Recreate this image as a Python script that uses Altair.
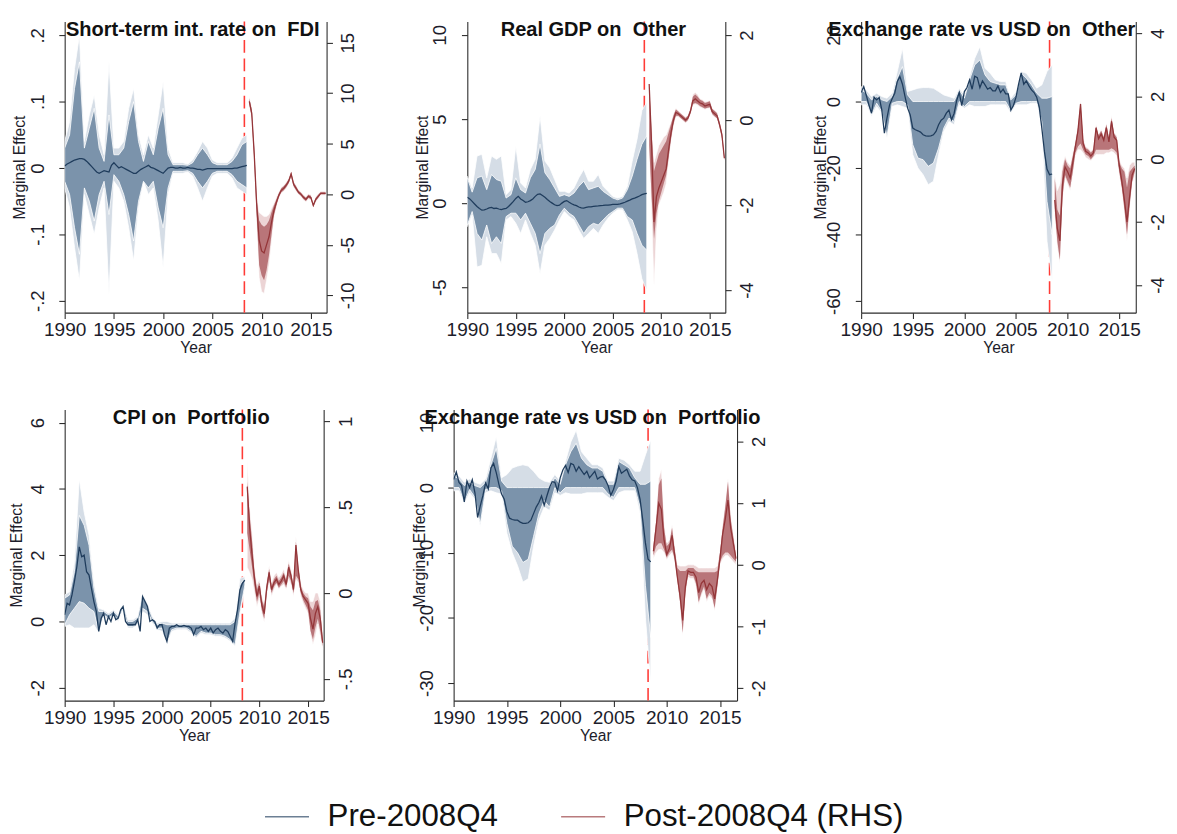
import altair as alt
import numpy as np
import pandas as pd

FONT = "Liberation Sans"

# ---- time grids (decimal years) ----
PRE_Q = np.round(np.arange(1990.0, 2008.51, 0.25), 2)    # quarterly, pre-break mean
PRE_H = np.round(np.arange(1990.0, 2008.51, 0.5), 2)     # half-yearly, pre-break bands
POST_Q = np.round(np.arange(2008.75, 2016.51, 0.25), 2)  # quarterly, post-break
X_DOMAIN = [1990, 2016.6]
X_TICKS = [1990, 1995, 2000, 2005, 2010, 2015]
BREAK_YEAR = [2008.25]
SERIES = ["Pre-2008Q4", "Post-2008Q4 (RHS)"]

NB = "\u00a0"
TITLES = ["Short-term int. rate on " + NB + "FDI", "Real GDP on " + NB + "Other",
          "Exchange rate vs USD on " + NB + "Other", "CPI on " + NB + "Portfolio",
          "Exchange rate vs USD on " + NB + "Portfolio"]

# ================= Panel 1 : Short-term int. rate on FDI =================
p1_pre_mean = [0.003, 0.006, 0.008, 0.010, 0.012, 0.013, 0.014, 0.014,
               0.013, 0.010, 0.006, 0.002, -0.002, -0.006, -0.008, -0.006,
               -0.004, -0.005, -0.006, 0.004, 0.008, 0.004, 0.000, 0.002,
               0.000, -0.002, -0.004, -0.006, -0.008, -0.008, -0.005, -0.002,
               0.000, 0.002, 0.004, 0.001, 0.000, -0.002, -0.004, -0.006,
               -0.008, -0.004, 0.000, 0.001, 0.001, 0.000, 0.000, 0.001,
               0.000, 0.000, 0.001, 0.000, 0.000, -0.001, -0.002, -0.002,
               -0.003, -0.002, -0.001, -0.001, -0.001, -0.001, -0.001, -0.001,
               -0.001, -0.001, -0.001, -0.001, -0.001, 0.000, 0.000, 0.001,
               0.002, 0.003, 0.004]
p1_pre_dhi = [0.03, 0.05, 0.12, 0.16, 0.03, 0.06, 0.09, 0.03, 0.01, 0.08,
              0.02, 0.02, 0.03, 0.07, 0.10, 0.04, 0.01, 0.04, 0.02, 0.06,
              0.09, 0.02, 0.005, 0.005, 0.005, 0.004, 0.008, 0.02, 0.03, 0.02,
              0.008, 0.005, 0.005, 0.005, 0.01, 0.02, 0.035, 0.04]
p1_pre_dlo = [-0.02, -0.04, -0.09, -0.13, -0.03, -0.05, -0.08, -0.04, -0.02, -0.07,
              -0.01, -0.02, -0.04, -0.07, -0.11, -0.05, -0.02, -0.03, -0.02, -0.06,
              -0.09, -0.03, -0.005, -0.005, -0.005, -0.004, -0.008, -0.02, -0.03, -0.02,
              -0.008, -0.005, -0.005, -0.005, -0.01, -0.02, -0.025, -0.03]
p1_pre_lhi = [0.04, 0.07, 0.15, 0.20, 0.04, 0.08, 0.11, 0.05, 0.02, 0.16,
              0.03, 0.03, 0.04, 0.09, 0.12, 0.05, 0.02, 0.05, 0.03, 0.08,
              0.13, 0.03, 0.008, 0.008, 0.008, 0.006, 0.012, 0.025, 0.04, 0.03,
              0.012, 0.008, 0.008, 0.008, 0.015, 0.03, 0.045, 0.05]
p1_pre_llo = [-0.03, -0.06, -0.12, -0.17, -0.04, -0.07, -0.10, -0.06, -0.03, -0.19,
              -0.02, -0.03, -0.05, -0.09, -0.14, -0.06, -0.02, -0.04, -0.03, -0.08,
              -0.15, -0.04, -0.008, -0.008, -0.008, -0.006, -0.012, -0.03, -0.05, -0.03,
              -0.012, -0.008, -0.008, -0.008, -0.015, -0.03, -0.035, -0.04]
p1_post_mean = [9.2, 8.0, 4.0, -1.0, -4.5, -5.6, -5.8, -5.0, -4.2, -2.8, -1.6, -0.8,
                -0.1, 0.4, 0.6, 0.9, 1.3, 2.0, 1.0, 0.6, 0.2, 0.0, -0.3, -0.5,
                -0.2, -0.3, -1.1, -0.5, -0.2, 0.1, 0.1, 0.1]
p1_post_dlo = [8.9, 7.6, 3.4, -2.2, -7.0, -8.0, -8.5, -7.5, -6.0, -4.0, -2.1, -1.1,
               -0.3, 0.2, 0.4, 0.7, 1.1, 1.8, 0.8, 0.4, 0.05, -0.15, -0.45, -0.65,
               -0.35, -0.45, -1.25, -0.65, -0.35, 0.0, 0.0, 0.0]
p1_post_dhi = [9.5, 8.4, 4.6, -0.5, -2.6, -3.0, -3.2, -3.0, -2.6, -1.8, -1.1, -0.5,
               0.1, 0.6, 0.8, 1.1, 1.5, 2.2, 1.2, 0.8, 0.35, 0.15, -0.15, -0.35,
               -0.05, -0.15, -0.95, -0.35, -0.05, 0.2, 0.2, 0.2]
p1_post_llo = [8.7, 7.4, 3.0, -2.8, -8.2, -9.6, -9.8, -8.5, -7.0, -4.8, -2.4, -1.3,
               -0.4, 0.1, 0.3, 0.6, 1.0, 1.7, 0.7, 0.3, 0.0, -0.25, -0.55, -0.75,
               -0.45, -0.55, -1.35, -0.75, -0.45, -0.1, -0.1, -0.1]
p1_post_lhi = [9.7, 8.6, 5.0, 0.0, -1.8, -2.0, -2.2, -2.2, -2.0, -1.4, -0.9, -0.3,
               0.2, 0.7, 0.9, 1.2, 1.6, 2.3, 1.3, 0.9, 0.45, 0.25, -0.05, -0.25,
               0.05, -0.05, -0.85, -0.25, 0.05, 0.3, 0.3, 0.3]

# ================= Panel 2 : Real GDP on Other =================
p2_pre_mean = [0.35, 0.25, 0.10, -0.05, -0.20, -0.32, -0.42, -0.40,
               -0.35, -0.28, -0.25, -0.32, -0.30, -0.35, -0.38, -0.34,
               -0.32, -0.20, -0.05, 0.10, 0.28, 0.40, 0.25, 0.15,
               0.05, 0.08, 0.15, 0.25, 0.40, 0.52, 0.55, 0.45,
               0.35, 0.22, 0.10, 0.00, -0.10, -0.15, -0.12, 0.00,
               0.10, 0.15, 0.05, -0.04, -0.10, -0.15, -0.23, -0.28,
               -0.30, -0.26, -0.23, -0.22, -0.20, -0.18, -0.17, -0.15,
               -0.14, -0.12, -0.12, -0.10, -0.08, -0.08, -0.07, -0.05,
               0.00, 0.05, 0.12, 0.18, 0.25, 0.30, 0.36, 0.42,
               0.50, 0.55, 0.58]
p2_pre_dhi = [1.5, 0.65, 1.5, 1.6, 0.8, 1.7, 1.4, 1.3, 0.3, 0.5,
              1.5, 0.8, 0.6, 1.5, 2.0, 3.5, 1.8, 1.4, 0.9, 0.4,
              0.5, 0.4, 0.6, 1.0, 1.3, 0.8, 0.9, 1.0, 0.7, 0.5,
              0.3, 0.2, 0.3, 0.8, 1.6, 2.6, 3.5, 4.0]
p2_pre_dlo = [-1.3, -0.5, -1.8, -2.2, -1.3, -2.4, -2.0, -2.4, -0.8, -0.6,
              -0.6, -1.0, -0.6, -1.2, -1.8, -3.0, -1.8, -1.5, -1.3, -0.7,
              -0.3, -0.6, -0.8, -1.3, -1.8, -1.4, -1.2, -1.3, -1.0, -0.7,
              -0.5, -0.3, -0.3, -0.8, -1.0, -1.8, -2.5, -2.8]
p2_pre_lhi = [1.6, 0.9, 2.8, 2.9, 1.5, 2.8, 2.6, 2.8, 0.5, 0.8,
              3.4, 1.2, 0.9, 2.0, 2.6, 5.2, 2.5, 2.1, 1.4, 0.7,
              0.7, 0.6, 0.9, 1.5, 2.0, 1.3, 1.3, 1.7, 1.0, 0.7,
              0.4, 0.3, 0.4, 1.0, 2.5, 3.8, 5.5, 6.0]
p2_pre_llo = [-1.4, -0.7, -3.8, -3.7, -2.0, -3.0, -3.0, -3.6, -1.0, -0.8,
              -1.2, -1.8, -1.0, -1.8, -2.5, -4.2, -2.5, -2.1, -1.6, -1.0,
              -0.5, -0.8, -1.0, -1.6, -2.1, -1.8, -1.5, -1.8, -1.3, -0.9,
              -0.6, -0.4, -0.4, -1.0, -1.7, -3.0, -4.5, -5.2]
p2_post_mean = [0.85, -0.6, -2.4, -1.8, -1.6, -1.45, -1.3, -1.15, -0.7, -0.3, 0.0, 0.18,
                0.15, 0.1, 0.05, 0.0, 0.05, 0.2, 0.45, 0.5, 0.45, 0.4, 0.38, 0.33,
                0.35, 0.37, 0.2, 0.15, 0.1, -0.1, -0.35, -0.9]
p2_post_dlo = [-0.6, -1.8, -2.8, -2.2, -1.9, -1.7, -1.5, -1.3, -0.9, -0.45, -0.1, 0.1,
               0.1, 0.05, 0.0, -0.05, 0.0, 0.15, 0.38, 0.4, 0.38, 0.33, 0.3, 0.27,
               0.29, 0.3, 0.14, 0.09, 0.04, -0.16, -0.42, -0.95]
p2_post_dhi = [0.85, -0.3, -1.2, -1.0, -0.8, -0.7, -0.6, -0.5, -0.3, -0.1, 0.1, 0.25,
               0.2, 0.15, 0.1, 0.05, 0.1, 0.26, 0.55, 0.6, 0.55, 0.48, 0.45, 0.4,
               0.42, 0.44, 0.26, 0.21, 0.16, -0.04, -0.28, -0.85]
p2_post_llo = [-0.7, -2.2, -3.9, -2.6, -2.0, -1.85, -1.7, -1.5, -1.0, -0.5, -0.15, 0.07,
               0.08, 0.03, -0.02, -0.07, -0.02, 0.13, 0.35, 0.37, 0.35, 0.3, 0.28, 0.25,
               0.27, 0.28, 0.12, 0.07, 0.02, -0.18, -0.45, -0.97]
p2_post_lhi = [0.9, -0.1, -1.0, -0.8, -0.6, -0.5, -0.4, -0.35, -0.2, -0.05, 0.15, 0.28,
               0.22, 0.17, 0.12, 0.07, 0.12, 0.28, 0.6, 0.65, 0.6, 0.5, 0.48, 0.43,
               0.44, 0.46, 0.28, 0.23, 0.18, -0.02, -0.25, -0.83]

# ================= Panel 3 : Exchange rate vs USD on Other =================
p3_pre_mean = [2.7, 4.5, 1.8, -1.0, -3.5, 1.3, 0.5, 1.2,
               -2.5, -9.5, -5.0, -1.0, 0.8, 2.5, 6.0, 7.5,
               5.2, 1.5, -2.0, -4.0, -8.0, -8.5, -8.8, -9.2,
               -10.0, -10.3, -10.4, -10.3, -10.0, -9.0, -7.0, -5.6,
               -5.0, -3.5, -2.6, -5.5, -3.6, 0.3, 2.7, -1.2,
               3.0, 4.2, 6.5, 3.7, 7.6, 7.2, 4.2, 6.2,
               5.0, 3.7, 4.2, 3.2, 3.2, 4.7, 2.7, 3.7,
               2.3, 2.3, -2.6, -1.2, 1.3, 5.2, 8.6, 5.2,
               6.2, 4.7, 3.5, 2.7, 1.3, -1.7, -8.0, -15.0,
               -20.3, -22.0, -21.8]
p3_pre_dhi = [3.5, 2.5, 0.5, 1.5, 0.5, 0.0, 1.5, 7.0, 10.5, 2.0,
              0.0, 0.0, 0.0, 0.0, 0.0, 0.0, 0.0, 0.0, 0.0, 3.5,
              1.0, 6.5, 11.0, 12.5, 8.0, 6.0, 5.5, 5.0, 5.0, 0.5,
              2.0, 8.5, 7.0, 5.0, 2.5, 1.0, 1.0, 1.5]
p3_pre_dlo = [0.0, 0.0, -4.0, -0.5, -3.0, -10.5, -0.5, 0.0, 0.0, -1.0,
              -13.0, -17.0, -17.5, -19.5, -18.5, -14.0, -8.0, -5.0, -6.0, 0.0,
              -1.5, 0.0, 0.0, 0.0, 0.0, 0.0, 0.0, 0.0, 0.0, -2.8,
              -0.5, 0.0, 0.0, 0.0, 0.0, -6.0, -30.0, -40.0]
p3_pre_lhi = [4.5, 3.5, 1.5, 2.5, 1.5, 1.0, 2.5, 9.0, 16.0, 3.0,
              3.5, 4.0, 4.2, 4.2, 4.0, 3.0, 2.0, 1.5, 1.0, 4.0,
              2.0, 7.5, 13.0, 16.5, 10.0, 8.5, 6.5, 6.0, 6.0, 1.0,
              3.0, 9.0, 8.5, 6.5, 4.0, 5.0, 9.0, 11.0]
p3_pre_llo = [-1.0, -1.0, -4.5, -1.5, -3.5, -11.0, -1.5, -1.0, -1.5, -2.0,
              -16.0, -20.0, -22.0, -25.0, -24.0, -16.0, -9.0, -6.0, -7.0, -1.0,
              -2.0, -1.0, -1.5, -1.5, -1.5, -1.0, -1.0, -1.0, -1.0, -3.5,
              -1.0, -1.0, -1.0, -0.5, -0.5, -8.0, -42.0, -54.0]
p3_post_mean = [-1.3, -2.2, -2.6, -0.8, -0.25, -0.4, -0.6, -0.1, 0.4, 0.9, 1.75, 0.5,
                0.25, 0.2, 0.1, 0.2, 1.0, 0.65, 0.8, 0.6, 1.0, 0.55, 1.2, 0.7,
                0.6, -0.2, -0.7, -1.3, -2.0, -1.2, -0.5, -0.3]
p3_post_dlo = [-1.6, -2.6, -3.2, -1.2, -0.5, -0.7, -0.9, -0.4, 0.2, 0.4, 0.5, 0.3,
               0.15, 0.1, 0.0, 0.1, 0.3, 0.3, 0.3, 0.3, 0.3, 0.3, 0.35, 0.3,
               0.2, -0.4, -0.9, -1.6, -2.4, -1.5, -0.7, -0.4]
p3_post_dhi = [-0.6, -1.6, -1.8, -0.4, 0.0, -0.2, -0.3, 0.1, 0.5, 1.0, 1.8, 0.6,
               0.35, 0.3, 0.2, 0.3, 1.05, 0.75, 0.9, 0.7, 1.1, 0.65, 1.3, 0.8,
               0.7, -0.1, -0.3, -0.4, -0.9, -0.4, -0.3, -0.2]
p3_post_llo = [-1.8, -2.8, -3.3, -1.3, -0.6, -0.8, -1.0, -0.5, 0.1, 0.3, 0.3, 0.2,
               0.05, 0.0, -0.05, 0.05, 0.15, 0.15, 0.15, 0.15, 0.2, 0.2, 0.25, 0.2,
               0.1, -0.5, -1.0, -1.7, -2.6, -1.6, -0.8, -0.5]
p3_post_lhi = [-0.5, -1.0, -0.8, -0.2, 0.1, -0.1, -0.2, 0.2, 0.6, 1.1, 1.9, 0.7,
               0.4, 0.35, 0.25, 0.35, 1.1, 0.8, 0.95, 0.75, 1.15, 0.7, 1.4, 0.85,
               0.75, 0.0, -0.2, -0.3, -0.6, -0.2, -0.1, -0.1]

# ================= Panel 4 : CPI on Portfolio =================
p4_pre_mean = [0.2, 0.55, 0.5, 0.8, 1.2, 1.65, 2.25, 1.95,
               2.0, 1.5, 1.4, 1.0, 0.6, 0.3, -0.3, 0.1,
               0.25, -0.1, 0.15, 0.0, 0.25, 0.05, 0.1, 0.35,
               0.45, 0.0, -0.1, -0.1, -0.1, -0.1, 0.05, -0.3,
               0.75, 0.6, 0.45, 0.0, 0.05, 0.0, -0.2, -0.1,
               -0.1, -0.4, -0.6, -0.2, -0.15, -0.15, -0.1, -0.15,
               -0.15, -0.12, -0.15, -0.15, -0.2, -0.4, -0.2, -0.2,
               -0.15, -0.25, -0.2, -0.3, -0.2, -0.35, -0.25, -0.2,
               -0.3, -0.35, -0.25, -0.3, -0.45, -0.6, -0.05, 0.35,
               0.95, 1.15, 1.25]
p4_pre_dhi = [0.7, 0.8, 1.5, 3.2, 2.9, 2.3, 1.0, 0.3, 0.3, 0.2,
              0.3, 0.15, 0.5, 0.0, 0.0, 0.1, 0.8, 0.5, 0.1, -0.1,
              -0.05, -0.1, -0.1, -0.1, -0.1, -0.1, -0.1, -0.1, -0.1, -0.1,
              -0.1, -0.1, -0.1, -0.1, -0.1, 0.0, 1.1, 1.3]
p4_pre_dlo = [-0.1, 0.2, 0.4, 0.6, 0.55, 0.4, 0.3, -0.3, 0.2, 0.1,
              0.2, 0.05, 0.4, -0.15, -0.15, -0.05, 0.4, 0.3, 0.0, -0.2,
              -0.2, -0.65, -0.25, -0.2, -0.2, -0.2, -0.3, -0.45, -0.3, -0.35,
              -0.35, -0.4, -0.4, -0.45, -0.55, -0.7, 0.3, 1.1]
p4_pre_lhi = [0.8, 0.9, 1.8, 4.3, 3.3, 2.6, 1.2, 0.4, 0.35, 0.25,
              0.35, 0.2, 0.55, 0.05, 0.05, 0.15, 0.85, 0.55, 0.15, -0.05,
              0.0, 0.0, -0.05, -0.05, -0.05, -0.05, -0.05, -0.05, -0.05, -0.05,
              -0.05, -0.05, -0.05, -0.05, -0.05, 0.1, 1.3, 1.35]
p4_pre_llo = [-0.15, -0.1, -0.2, -0.2, -0.2, -0.2, -0.1, -0.35, 0.15, 0.05,
              0.15, 0.0, 0.35, -0.2, -0.2, -0.1, 0.3, 0.2, -0.05, -0.25,
              -0.3, -0.7, -0.3, -0.25, -0.25, -0.25, -0.35, -0.5, -0.35, -0.4,
              -0.4, -0.45, -0.45, -0.5, -0.6, -0.75, 0.2, 1.0]
p4_post_mean = [0.62, 0.38, 0.22, 0.08, -0.02, 0.04, -0.07, -0.12, 0.03, 0.12, 0.02, 0.06,
                0.08, 0.05, 0.07, 0.1, 0.05, 0.15, 0.1, 0.02, 0.28, 0.13, 0.02, -0.02,
                -0.04, -0.06, -0.15, -0.21, -0.12, -0.08, -0.15, -0.29]
p4_post_dlo = [0.35, 0.25, 0.15, 0.04, -0.05, 0.0, -0.1, -0.15, 0.0, 0.08, 0.0, 0.04,
               0.06, 0.03, 0.05, 0.07, 0.03, 0.1, 0.07, 0.0, 0.1, 0.08, 0.0, -0.04,
               -0.07, -0.1, -0.22, -0.27, -0.2, -0.15, -0.22, -0.31]
p4_post_dhi = [0.65, 0.45, 0.3, 0.12, 0.02, 0.06, -0.04, -0.08, 0.05, 0.14, 0.04, 0.08,
               0.1, 0.07, 0.09, 0.12, 0.07, 0.17, 0.12, 0.04, 0.3, 0.15, 0.04, 0.0,
               -0.02, -0.03, -0.08, -0.1, -0.05, -0.04, -0.1, -0.27]
p4_post_llo = [0.15, 0.12, 0.08, 0.0, -0.08, -0.03, -0.12, -0.17, -0.02, 0.06, -0.02, 0.02,
               0.05, 0.02, 0.04, 0.05, 0.02, 0.08, 0.05, -0.02, 0.08, 0.06, -0.02, -0.06,
               -0.09, -0.12, -0.24, -0.3, -0.25, -0.18, -0.25, -0.33]
p4_post_lhi = [0.77, 0.5, 0.35, 0.15, 0.05, 0.08, -0.02, -0.06, 0.07, 0.16, 0.06, 0.1,
               0.12, 0.09, 0.11, 0.14, 0.09, 0.19, 0.14, 0.06, 0.33, 0.17, 0.06, 0.02,
               0.0, 0.0, -0.05, -0.05, 0.0, 0.0, -0.05, -0.25]

# ================= Panel 5 : Exchange rate vs USD on Portfolio =================
p5_pre_mean = [1.25, 2.4, 0.8, 0.3, -2.2, 1.0, 0.0, 1.2,
               -0.8, -4.6, -2.8, -1.2, 0.7, -0.2, 3.0, 3.7,
               2.3, 0.5, -1.0, -1.8, -3.7, -4.7, -4.9, -5.0,
               -5.0, -5.3, -5.5, -5.5, -5.4, -5.0, -4.0, -3.0,
               -2.3, -1.3, -2.7, -1.3, 0.0, 0.9, 0.8, -0.5,
               1.5, 2.7, 3.4, 2.3, 3.7, 3.5, 2.5, 3.2,
               2.6, 2.0, 2.5, 1.5, 2.0, 2.5, 1.3, 1.6,
               1.7, 1.2, 0.3, -1.2, -0.3, 1.0, 3.2, 2.2,
               2.5, 2.8, 1.8, 1.2, 1.0, 0.0, -1.8, -5.0,
               -8.5, -11.0, -11.4]
p5_pre_dhi = [1.8, 1.3, 0.3, 0.8, 0.3, 0.0, 0.8, 3.5, 6.0, 1.0,
              0.0, 0.0, 0.0, 0.0, 0.0, 0.0, 0.0, 0.0, 0.0, 1.5,
              0.5, 3.5, 5.5, 6.8, 4.5, 3.5, 3.0, 3.0, 2.5, 0.5,
              0.5, 4.0, 3.5, 3.0, 1.5, 0.5, 0.5, 1.0]
p5_pre_dlo = [0.0, 0.0, -2.2, -0.3, -1.5, -5.5, -0.3, 0.0, 0.0, -0.5,
              -5.5, -9.0, -10.0, -11.5, -11.0, -7.5, -4.0, -2.0, -3.0, 0.0,
              -0.8, 0.0, 0.0, 0.0, 0.0, 0.0, 0.0, 0.0, 0.0, -1.0,
              -1.5, 0.0, 0.0, 0.0, 0.0, -3.0, -15.0, -23.0]
p5_pre_lhi = [2.3, 1.8, 0.8, 1.3, 0.8, 0.5, 1.3, 4.5, 7.8, 1.5,
              2.0, 3.0, 3.3, 3.5, 3.3, 2.5, 1.5, 1.0, 0.8, 2.0,
              1.0, 4.0, 7.0, 8.8, 5.5, 4.5, 3.5, 3.5, 3.0, 1.0,
              1.0, 4.5, 4.2, 3.5, 2.5, 2.5, 5.0, 7.3]
p5_pre_llo = [-0.5, -0.5, -2.5, -0.8, -1.8, -6.0, -0.8, -0.5, -0.8, -1.0,
              -7.0, -10.0, -12.0, -14.5, -14.0, -9.0, -5.0, -3.0, -3.5, -0.8,
              -1.2, -0.8, -1.0, -1.0, -1.0, -0.8, -0.8, -0.8, -0.8, -1.5,
              -2.0, -0.8, -0.5, -0.5, -0.5, -4.0, -20.0, -30.0]
p5_post_mean = [0.22, 0.6, 1.0, 0.9, 0.4, 0.17, 0.27, 0.48, 0.15, -0.2, -0.5, -0.9,
                -0.35, -0.1, -0.12, -0.12, -0.2, -0.45, -0.3, -0.25, -0.4, -0.3, -0.35, -0.55,
                -0.25, 0.1, 0.5, 0.75, 1.05, 0.6, 0.35, 0.1]
p5_post_dlo = [0.15, 0.3, 0.35, 0.35, 0.25, 0.12, 0.2, 0.25, 0.1, -0.25, -0.6, -1.1,
               -0.45, -0.15, -0.18, -0.18, -0.3, -0.6, -0.45, -0.35, -0.55, -0.45, -0.5, -0.7,
               -0.35, 0.05, 0.15, 0.2, 0.2, 0.15, 0.1, 0.05]
p5_post_dhi = [0.3, 0.7, 1.3, 1.4, 0.6, 0.3, 0.35, 0.6, 0.25, -0.05, -0.1, -0.1,
               -0.1, -0.05, -0.05, -0.05, -0.1, -0.12, -0.12, -0.12, -0.12, -0.12, -0.12, -0.12,
               -0.1, 0.2, 0.6, 0.95, 1.35, 0.75, 0.45, 0.15]
p5_post_llo = [0.1, 0.2, 0.25, 0.25, 0.2, 0.08, 0.15, 0.2, 0.05, -0.3, -0.65, -1.15,
               -0.5, -0.2, -0.22, -0.22, -0.35, -0.65, -0.5, -0.4, -0.6, -0.5, -0.55, -0.75,
               -0.4, 0.0, 0.1, 0.15, 0.15, 0.1, 0.05, 0.0]
p5_post_lhi = [0.35, 0.75, 1.4, 1.55, 0.7, 0.35, 0.4, 0.65, 0.3, 0.0, -0.02, -0.02,
               -0.02, 0.0, 0.0, 0.0, -0.02, -0.05, -0.05, -0.05, -0.05, -0.05, -0.05, -0.05,
               -0.02, 0.25, 0.65, 1.0, 1.4, 0.8, 0.5, 0.2]

# ---- axis ranges and ticks (left = pre, right = post) ----
LEFT_DOMAINS = [[-0.218, 0.221], [-6.51, 10.8], [-63.5, 24.1], [-2.39, 6.40], [-32.7, 12.0]]
RIGHT_DOMAINS = [[-11.7, 17.1], [-4.53, 2.32], [-4.88, 4.38], [-0.627, 1.07], [-2.20, 2.52]]
LEFT_TICKS = [[-0.2, -0.1, 0, 0.1, 0.2], [-5, 0, 5, 10], [-60, -40, -20, 0, 20],
              [-2, 0, 2, 4, 6], [-30, -20, -10, 0, 10]]
RIGHT_TICKS = [[-10, -5, 0, 5, 10, 15], [-4, -2, 0, 2], [-4, -2, 0, 2, 4],
               [-0.5, 0, 0.5, 1], [-2, -1, 0, 1, 2]]

# ---- colours ----
PRE_LINE, PRE_DARK, PRE_LIGHT = "#1f3c5c", "#7b93ab", "#d5dde6"
POST_LINE, POST_DARK, POST_LIGHT = "#943538", "#b97579", "#ecd4d5"
BREAK_COLOR = "#ff3b36"
TXT = "#1d1d2b"

STATA_FMT = ("(datum.value < 0 ? '-' : '') + ((abs(datum.value) < 1 && datum.value != 0) ? "
             "substring(format(abs(datum.value), '~g'), 1) : format(abs(datum.value), '~g'))")

LEGEND = alt.Legend(title=None, orient="none", legendX=204, legendY=790,
                    direction="horizontal", symbolType="stroke", symbolSize=2025,
                    symbolStrokeWidth=1.6, symbolOpacity=0.65, labelFontSize=32,
                    labelFont=FONT, labelColor="#111111", labelOffset=18,
                    columnPadding=60, labelLimit=500)


def make_panel(i, pre, post, width, height, lab_pad, title_pad, title_dx):
    pre_line = pd.DataFrame({"year": PRE_Q, "v": pre[0], "series": SERIES[0]})
    pre_band = pd.DataFrame({"year": PRE_H, "dlo": pre[1], "dhi": pre[2],
                             "llo": pre[3], "lhi": pre[4]})
    post_line = pd.DataFrame({"year": POST_Q, "v": post[0], "series": SERIES[1]})
    post_band = pd.DataFrame({"year": POST_Q, "dlo": post[1], "dhi": post[2],
                              "llo": post[3], "lhi": post[4]})

    x = alt.X("year:Q", scale=alt.Scale(domain=X_DOMAIN, nice=False, zero=False),
              axis=alt.Axis(values=X_TICKS, format="d", title="Year", labelFontSize=19.5,
                            titleFontSize=16, titlePadding=1, tickSize=6, labelPadding=2,
                            labelFlush=False, labelOverlap=False, grid=False))
    lscale = alt.Scale(domain=LEFT_DOMAINS[i], nice=False, zero=False)
    rscale = alt.Scale(domain=RIGHT_DOMAINS[i], nice=False, zero=False)
    lax = alt.Axis(orient="left", values=LEFT_TICKS[i], labelExpr=STATA_FMT,
                   labelAngle=270, labelAlign="center", labelBaseline="bottom",
                   labelFontSize=19, labelPadding=lab_pad, tickSize=6, labelOverlap=False,
                   title="Marginal Effect", titleFontSize=16, titlePadding=title_pad,
                   grid=False)
    rax = alt.Axis(orient="right", values=RIGHT_TICKS[i], labelExpr=STATA_FMT,
                   labelAngle=270, labelAlign="center", labelBaseline="top",
                   labelFontSize=19, labelPadding=7, tickSize=6, labelOverlap=False,
                   title=None, grid=False)
    color = alt.Color("series:N", scale=alt.Scale(domain=SERIES, range=[PRE_LINE, POST_LINE]),
                      legend=LEGEND)

    rule = alt.Chart(pd.DataFrame({"year": BREAK_YEAR})).mark_rule(
        color=BREAK_COLOR, strokeDash=[13, 6], strokeWidth=1.6).encode(x=x)
    pl = alt.Chart(pre_band).mark_area(color=PRE_LIGHT, stroke="white", strokeWidth=0.8,
                                       clip=True).encode(
        x=x, y=alt.Y("llo:Q", scale=lscale, axis=lax), y2="lhi:Q")
    pdk = alt.Chart(pre_band).mark_area(color=PRE_DARK, stroke="white", strokeWidth=0.8,
                                        clip=True).encode(
        x=x, y=alt.Y("dlo:Q", scale=lscale, axis=lax), y2="dhi:Q")
    pln = alt.Chart(pre_line).mark_line(strokeWidth=1.3, clip=True).encode(
        x=x, y=alt.Y("v:Q", scale=lscale, axis=lax), color=color)

    ql = alt.Chart(post_band).mark_area(color=POST_LIGHT, stroke="white", strokeWidth=0.6,
                                        clip=True).encode(
        x=x, y=alt.Y("llo:Q", scale=rscale, axis=rax), y2="lhi:Q")
    qdk = alt.Chart(post_band).mark_area(color=POST_DARK, clip=True).encode(
        x=x, y=alt.Y("dlo:Q", scale=rscale, axis=rax), y2="dhi:Q")
    qln = alt.Chart(post_line).mark_line(strokeWidth=1.3, clip=True).encode(
        x=x, y=alt.Y("v:Q", scale=rscale, axis=rax), color=color)

    left = alt.layer(rule, pl, pdk, pln)
    right = alt.layer(ql, qdk, qln)
    return alt.layer(left, right).resolve_scale(y="independent").properties(
        width=width, height=height,
        title=alt.TitleParams(TITLES[i], fontSize=20.5, fontWeight="bold", font=FONT,
                              color="#111111", anchor="middle", frame="group",
                              offset=-36, baseline="alphabetic", dx=title_dx))


P = [
    ([p1_pre_mean, p1_pre_dlo, p1_pre_dhi, p1_pre_llo, p1_pre_lhi],
     [p1_post_mean, p1_post_dlo, p1_post_dhi, p1_post_llo, p1_post_lhi]),
    ([p2_pre_mean, p2_pre_dlo, p2_pre_dhi, p2_pre_llo, p2_pre_lhi],
     [p2_post_mean, p2_post_dlo, p2_post_dhi, p2_post_llo, p2_post_lhi]),
    ([p3_pre_mean, p3_pre_dlo, p3_pre_dhi, p3_pre_llo, p3_pre_lhi],
     [p3_post_mean, p3_post_dlo, p3_post_dhi, p3_post_llo, p3_post_lhi]),
    ([p4_pre_mean, p4_pre_dlo, p4_pre_dhi, p4_pre_llo, p4_pre_lhi],
     [p4_post_mean, p4_post_dlo, p4_post_dhi, p4_post_llo, p4_post_lhi]),
    ([p5_pre_mean, p5_pre_dlo, p5_pre_dhi, p5_pre_llo, p5_pre_lhi],
     [p5_post_mean, p5_post_dlo, p5_post_dhi, p5_post_llo, p5_post_lhi]),
]

c1 = make_panel(0, *P[0], width=268, height=298, lab_pad=12, title_pad=1, title_dx=-3)
c2 = make_panel(1, *P[1], width=264, height=298, lab_pad=12, title_pad=1, title_dx=-3)
c3 = make_panel(2, *P[2], width=281, height=298, lab_pad=12, title_pad=-4, title_dx=-17)
c4 = make_panel(3, *P[3], width=265, height=298, lab_pad=12, title_pad=4, title_dx=-3)
c5 = make_panel(4, *P[4], width=290, height=298, lab_pad=12, title_pad=-10, title_dx=-3)

row1 = alt.hconcat(c1, c2, c3, spacing=58)
row2 = alt.hconcat(c4, c5, spacing=58)

chart = alt.vconcat(row1, row2, spacing=53).properties(
    padding={"left": 1, "top": 2, "right": 2, "bottom": 2}
).configure_view(stroke=None).configure_axis(
    domainColor="#2b2b2b", tickColor="#2b2b2b", domainWidth=1.1, tickWidth=1.1,
    labelColor=TXT, titleColor=TXT, labelFont=FONT, titleFont=FONT,
    titleFontWeight="normal"
)

chart.save("out.html", embed_options={"renderer": "svg", "actions": False})
